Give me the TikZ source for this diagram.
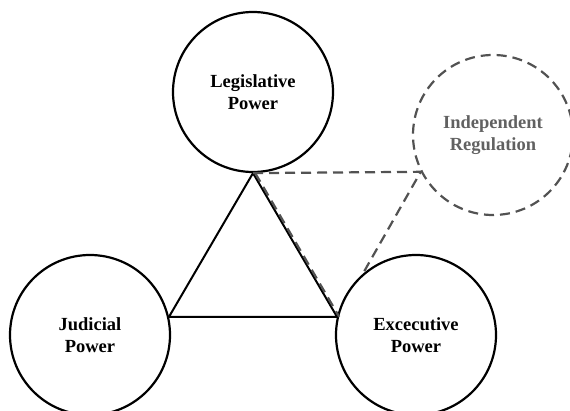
\documentclass[tikz,border=0pt]{standalone}
\usepackage{fontspec}
\setmainfont{Liberation Serif}
\begin{document}
\begin{tikzpicture}[x=1pt,y=-1pt,
  power/.style={circle,draw=black,line width=2.2pt,minimum size=160pt,inner sep=0pt,
    align=center,font=\bfseries\fontsize{18.5}{22}\selectfont},
  regbox/.style={circle,draw=black!68,dash pattern=on 10pt off 6pt,line width=2.2pt,
    minimum size=160pt,inner sep=0pt,align=center,text=black!62,
    font=\bfseries\fontsize{18.5}{22}\selectfont},
  side/.style={line width=2pt,black},
  link/.style={line width=2.2pt,black!68,dash pattern=on 10pt off 6pt}]
\useasboundingbox (0,0) rectangle (570,411);
\clip (0,0) rectangle (570,411);
\node[power] (leg) at (253,92) {Legislative\\Power};
\node[power] (jud) at (90,335) {Judicial\\Power};
\node[power] (exe) at (416,335) {Excecutive\\Power};
\node[regbox] (reg) at (493,135) {Independent\\Regulation};
% triangle of powers
\draw[side] (jud.13) -- (leg.south) -- (exe.167) -- (jud.13);
% links to the regulator
\draw[link] (leg.south) -- (reg.207) -- (exe.131);
\draw[link] ([xshift=2.2pt]leg.south) -- ([xshift=2.2pt]exe.167);
\end{tikzpicture}
\end{document}
